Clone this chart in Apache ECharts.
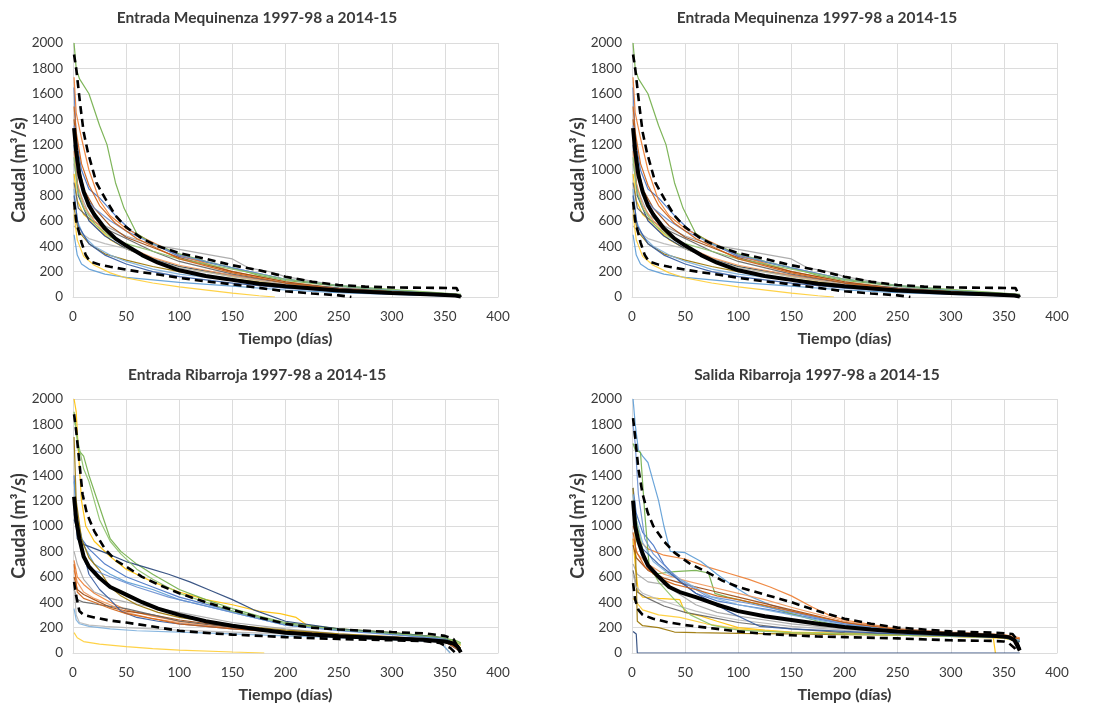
<!DOCTYPE html>
<html>
<head>
<meta charset="utf-8">
<script src="https://cdn.jsdelivr.net/npm/echarts@6/dist/echarts.min.js"></script>
<style>html,body{margin:0;padding:0;background:#fff}#c{width:1101px;height:704px}</style>
</head>
<body>
<div id="c"></div>
<script>
// ---------- Text ----------
const titles = [
  'Entrada Mequinenza 1997-98 a 2014-15',
  'Entrada Mequinenza 1997-98 a 2014-15',
  'Entrada Ribarroja 1997-98 a 2014-15',
  'Salida Ribarroja 1997-98 a 2014-15'
];
const xName = 'Tiempo (días)';
const yName = 'Caudal (m³/s)';
const yearNames = ['1997-98','1998-99','1999-00','2000-01','2001-02','2002-03','2003-04','2004-05','2005-06',
  '2006-07','2007-08','2008-09','2009-10','2010-11','2011-12','2012-13','2013-14','2014-15'];
const yearColors = ['#4472C4','#ED7D31','#A5A5A5','#FFC000','#5B9BD5','#70AD47','#264478','#9E480E','#636363',
  '#997300','#698ED0','#F1975A','#B7B7B7','#FFCD33','#7CAFDD','#8CC168','#335AA1','#D26012'];

// ---------- Entrada Mequinenza: [día, caudal] ----------
const mqMean = [[1,1330],[3,1150],[6,960],[10,830],[15,720],[20,650],[30,540],[40,460],[50,405],[65,330],[80,270],[100,210],[125,165],[150,135],[175,105],[200,85],[250,52],[300,32],[340,20],[360,12],[365,3]];
const mqUpper = [[1,1910],[3,1800],[7,1500],[10,1300],[14,1140],[22,900],[30,780],[40,640],[50,550],[65,460],[80,400],[100,345],[125,300],[150,250],[175,210],[200,160],[225,120],[250,95],[275,82],[300,75],[340,72],[361,70],[365,0]];
const mqLower = [[1,750],[3,600],[8,430],[12,330],[16,280],[25,255],[35,238],[50,215],[65,195],[82,175],[100,150],[130,118],[150,100],[175,72],[200,45],[225,28],[250,13],[262,0]];
const mqYears = [
  [[1,1650],[3,1250],[8,1000],[15,850],[25,780],[40,640],[55,520],[75,420],[100,320],[150,230],[200,140],[250,85],[300,50],[365,15]],
  [[1,1730],[3,1450],[8,1250],[15,1000],[25,760],[35,640],[50,540],[70,450],[100,330],[150,200],[200,120],[250,70],[300,45],[340,30],[365,10]],
  [[1,1050],[5,850],[15,650],[30,560],[50,480],[75,410],[100,375],[130,330],[150,300],[165,230],[185,200],[200,160],[250,90],[300,55],[365,20]],
  [[1,970],[4,760],[10,650],[20,580],[35,450],[50,380],[75,300],[100,240],[150,160],[200,100],[250,60],[300,35],[365,10]],
  [[1,490],[4,330],[8,260],[15,220],[30,180],[50,155],[75,135],[100,115],[150,85],[200,55],[250,35],[300,20],[365,5]],
  [[1,2000],[3,1800],[6,1720],[15,1600],[25,1350],[32,1200],[40,900],[48,700],[60,500],[75,420],[100,340],[125,280],[150,230],[175,170],[200,130],[250,85],[300,50],[340,30],[360,20],[365,10]],
  [[1,1200],[5,800],[15,600],[30,480],[50,380],[75,300],[100,240],[150,170],[200,110],[250,70],[300,40],[365,10]],
  [[1,1400],[4,1100],[10,850],[20,700],[35,560],[50,470],[75,390],[100,310],[150,200],[200,120],[250,60],[300,35],[365,8]],
  [[1,900],[5,700],[15,620],[30,540],[50,460],[75,360],[100,280],[150,180],[200,110],[250,65],[300,40],[365,10]],
  [[1,700],[5,520],[15,420],[30,340],[50,290],[75,240],[100,200],[150,140],[200,95],[250,60],[300,35],[365,5]],
  [[1,1350],[4,1000],[10,800],[20,700],[35,600],[50,520],[75,420],[100,330],[150,230],[200,140],[250,90],[300,55],[365,15]],
  [[1,1150],[4,900],[10,720],[20,600],[35,480],[50,400],[75,310],[100,250],[150,170],[200,100],[250,60],[300,35],[365,10]],
  [[1,560],[5,520],[15,460],[30,420],[50,380],[75,300],[100,230],[150,160],[200,100],[250,60],[300,35],[365,10]],
  [[1,650],[4,450],[10,320],[20,250],[35,190],[50,150],[75,110],[100,80],[130,50],[150,30],[175,10],[190,0]],
  [[1,850],[4,600],[10,480],[20,400],[35,330],[50,280],[75,220],[100,180],[150,130],[200,90],[250,55],[300,30],[365,5]],
  [[1,1100],[4,850],[10,700],[20,580],[35,470],[50,420],[75,360],[100,300],[150,220],[200,140],[250,90],[300,60],[365,20]],
  [[1,800],[5,560],[15,420],[30,330],[50,260],[75,200],[100,160],[150,110],[200,70],[250,45],[300,25],[365,5]],
  [[1,1500],[3,1300],[8,1050],[15,880],[25,720],[40,580],[60,460],[80,380],[100,300],[150,190],[200,110],[250,65],[300,40],[365,10]]
];

// ---------- Entrada Ribarroja ----------
const erMean = [[1,1230],[3,1050],[6,900],[10,760],[15,680],[25,590],[35,520],[50,460],[65,400],[80,350],[100,300],[125,250],[150,215],[175,185],[200,160],[225,145],[250,132],[300,115],[330,105],[350,90],[358,75],[362,50],[365,5]];
const erUpper = [[1,1880],[3,1750],[6,1500],[9,1250],[13,1100],[20,960],[30,820],[40,730],[50,680],[65,600],[80,540],[100,470],[125,400],[150,340],[175,280],[200,230],[225,200],[250,185],[300,165],[330,155],[350,135],[358,110],[365,10]];
const erLower = [[1,560],[3,450],[6,330],[10,300],[20,280],[35,255],[50,240],[70,215],[100,175],[130,155],[150,145],[200,125],[250,110],[300,100],[330,95],[345,80],[355,40],[360,0]];
const erYears = [
  [[1,1400],[3,1100],[8,900],[15,820],[30,700],[50,600],[75,520],[100,440],[150,330],[200,230],[250,180],[300,150],[350,110],[365,30]],
  [[1,730],[4,600],[10,540],[20,470],[35,400],[50,340],[75,290],[100,250],[150,200],[200,170],[250,140],[300,125],[350,100],[365,30]],
  [[1,800],[4,700],[10,580],[20,480],[35,430],[50,400],[75,360],[100,320],[150,240],[200,190],[250,150],[300,125],[350,95],[365,30]],
  [[1,2000],[3,1900],[5,1600],[8,1200],[12,1000],[20,880],[35,760],[50,660],[75,560],[100,480],[125,420],[150,380],[175,330],[195,310],[210,280],[220,220],[250,190],[300,160],[340,130],[360,90],[365,60]],
  [[1,1350],[4,1050],[10,850],[20,700],[35,620],[50,560],[75,500],[100,420],[150,320],[200,220],[250,180],[300,150],[350,115],[365,40]],
  [[1,1900],[5,1600],[10,1550],[15,1400],[25,1150],[35,900],[45,800],[60,700],[75,620],[100,500],[125,420],[150,350],[175,290],[200,240],[250,190],[300,160],[340,130],[360,100],[365,80]],
  [[1,1200],[4,900],[8,860],[15,840],[30,790],[50,720],[70,670],[90,620],[110,560],[130,490],[150,420],[170,340],[200,250],[250,190],[300,160],[350,120],[365,40]],
  [[1,600],[4,500],[10,460],[20,420],[35,360],[50,330],[75,300],[100,260],[150,205],[200,170],[250,140],[300,120],[350,90],[365,10]],
  [[1,500],[4,420],[10,400],[25,380],[50,350],[75,300],[100,250],[150,200],[200,165],[250,140],[300,120],[350,95],[365,10]],
  [[1,1700],[3,1200],[8,900],[15,750],[25,650],[35,520],[45,450],[60,380],[80,320],[100,280],[150,220],[200,180],[250,150],[300,130],[350,100],[365,40]],
  [[1,1100],[5,900],[12,700],[20,650],[35,600],[60,520],[90,440],[120,380],[150,320],[200,220],[250,175],[300,145],[350,110],[365,30]],
  [[1,650],[4,560],[10,480],[20,430],[35,380],[50,320],[75,270],[100,240],[150,195],[200,165],[250,140],[300,120],[350,95],[365,20]],
  [[1,550],[3,300],[6,240],[15,220],[30,210],[50,200],[100,180],[150,165],[200,150],[250,130],[300,115],[345,95],[355,0]],
  [[1,160],[4,120],[10,90],[25,70],[50,50],[75,35],[100,22],[150,8],[180,0]],
  [[1,350],[3,260],[6,230],[15,210],[35,190],[60,175],[100,165],[150,150],[200,135],[250,120],[300,105],[345,90],[355,0]],
  [[1,1850],[5,1650],[10,1450],[15,1350],[25,1050],[35,880],[45,780],[60,660],[75,580],[100,470],[150,330],[200,230],[250,185],[300,155],[350,120],[365,70]],
  [[1,1050],[5,950],[15,620],[25,500],[35,420],[45,330],[60,280],[80,250],[100,230],[150,190],[200,165],[250,140],[300,125],[350,100],[365,20]],
  [[1,700],[4,480],[10,430],[20,400],[35,350],[50,310],[75,270],[100,230],[150,190],[200,160],[250,135],[300,115],[350,90],[365,20]]
];

// ---------- Salida Ribarroja ----------
const srMean = [[1,1200],[3,1000],[6,880],[10,780],[15,690],[25,600],[35,520],[45,480],[60,440],[80,380],[100,330],[125,290],[150,260],[175,230],[200,205],[225,185],[250,170],[300,150],[340,135],[355,125],[360,100],[365,20]];
const srUpper = [[1,1850],[3,1700],[6,1450],[10,1250],[15,1100],[20,1000],[30,880],[40,790],[55,700],[70,640],[85,570],[100,520],[125,460],[150,400],[175,330],[200,270],[225,230],[250,200],[300,170],[340,160],[358,150],[361,120],[365,30]];
const srLower = [[1,550],[3,420],[6,340],[10,300],[20,270],[35,240],[50,220],[75,195],[100,170],[125,150],[150,140],[175,130],[200,125],[250,115],[300,100],[340,95],[350,90],[355,75],[360,40],[363,0]];
const srYears = [
  [[1,1300],[4,1100],[10,950],[20,850],[30,700],[45,560],[60,470],[80,410],[100,380],[130,340],[160,290],[200,230],[250,180],[300,150],[350,130],[365,100]],
  [[1,1000],[5,900],[15,820],[30,770],[50,740],[70,680],[90,630],[110,580],[130,520],[150,450],[170,360],[185,300],[200,260],[250,190],[300,165],[350,145],[365,120]],
  [[1,700],[5,620],[15,560],[30,540],[45,460],[60,380],[80,320],[100,290],[125,260],[150,230],[200,190],[250,165],[300,145],[350,130],[365,100]],
  [[1,900],[3,700],[6,480],[10,440],[25,430],[45,420],[50,320],[65,290],[80,250],[100,200],[125,180],[150,165],[200,155],[250,145],[300,135],[340,125],[342,0]],
  [[1,2000],[3,1800],[6,1600],[10,1550],[15,1500],[20,1350],[25,1200],[30,1000],[36,800],[50,790],[65,720],[80,620],[95,530],[110,450],[130,380],[150,330],[175,280],[200,240],[250,190],[300,160],[350,140],[365,100]],
  [[1,1650],[3,1600],[8,1580],[12,1100],[16,700],[20,620],[40,640],[60,650],[72,630],[78,470],[90,440],[110,400],[130,360],[150,310],[175,250],[200,210],[250,170],[300,150],[350,130],[365,100]],
  [[1,170],[4,150],[5,0],[365,0]],
  [[1,850],[4,750],[15,650],[30,590],[50,540],[75,490],[100,440],[150,340],[200,240],[250,180],[300,155],[350,135],[365,100]],
  [[1,650],[5,480],[15,430],[30,370],[50,320],[75,280],[100,240],[150,190],[200,160],[250,150],[300,135],[350,120],[365,90]],
  [[1,1300],[3,900],[5,250],[10,215],[25,200],[40,165],[60,160],[100,155],[150,150],[200,145],[250,140],[300,130],[350,120],[365,100]],
  [[1,1800],[3,1650],[6,1250],[12,900],[20,780],[35,650],[50,550],[70,450],[90,420],[110,390],[150,320],[200,230],[250,180],[300,150],[350,130],[365,110]],
  [[1,900],[5,780],[15,700],[30,620],[50,570],[75,520],[100,470],[125,420],[150,360],[200,250],[250,190],[300,160],[350,140],[365,110]],
  [[1,620],[4,520],[10,470],[25,420],[40,380],[60,330],[80,290],[100,260],[150,210],[200,180],[250,160],[300,140],[350,125],[365,100]],
  [[1,430],[4,400],[10,340],[25,300],[45,280],[70,230],[100,190],[150,160],[200,150],[250,140],[300,130],[350,115],[365,90]],
  [[1,1250],[4,1050],[10,870],[20,720],[35,620],[50,560],[75,440],[100,380],[150,300],[200,220],[250,180],[300,150],[350,130],[365,100]],
  [[1,1200],[5,1000],[12,750],[25,560],[40,420],[55,300],[75,220],[100,180],[150,160],[200,150],[250,140],[300,130],[350,120],[365,90]],
  [[1,1100],[4,950],[10,820],[25,700],[40,600],[60,470],[90,330],[110,250],[120,210],[150,190],[200,170],[250,150],[300,135],[350,120],[365,90]],
  [[1,950],[4,800],[12,680],[25,590],[40,540],[60,500],[80,450],[100,420],[150,330],[200,240],[250,185],[300,155],[350,135],[365,110]]
];

// ---------- Axes ----------
const xMin = 0, xMax = 400, xStep = 50;
const yMin = 0, yMax = 2000, yStep = 200;

const panels = [
  {years: mqYears, mean: mqMean, upper: mqUpper, lower: mqLower},
  {years: mqYears, mean: mqMean, upper: mqUpper, lower: mqLower},
  {years: erYears, mean: erMean, upper: erUpper, lower: erLower},
  {years: srYears, mean: srMean, upper: srUpper, lower: srLower}
];
const grids = [
  {left: 73, right: 603, top: 43, height: 254},
  {left: 632, right: 44, top: 43, height: 254},
  {left: 73, right: 603, top: 399, height: 254},
  {left: 632, right: 44, top: 399, height: 254}
];
const titlePos = [[257, 18], [817, 18], [257, 375], [817, 375]];

const FONT = 'Lato, "Open Sans", sans-serif';
const txt = '#3a3a3a';
const gridCol = '#dcdcdc';

const xAxes = [], yAxes = [], series = [], graphics = [];
grids.forEach((g, i) => {
  xAxes.push({
    type: 'value', gridIndex: i, min: xMin, max: xMax, interval: xStep,
    name: xName, nameLocation: 'middle', nameGap: 34,
    nameTextStyle: {fontFamily: FONT, fontWeight: 'bold', fontSize: 16, color: txt},
    axisLine: {show: true, lineStyle: {color: gridCol}},
    axisTick: {show: false},
    axisLabel: {fontFamily: FONT, fontSize: 13.5, color: txt, margin: 13, formatter: v => String(v)},
    splitLine: {show: true, lineStyle: {color: gridCol, width: 1}}
  });
  yAxes.push({
    type: 'value', gridIndex: i, min: yMin, max: yMax, interval: yStep,
    name: yName, nameLocation: 'middle', nameGap: 42,
    nameTextStyle: {fontFamily: FONT, fontWeight: 'bold', fontSize: 18, color: txt},
    axisLine: {show: true, lineStyle: {color: gridCol}},
    axisTick: {show: false},
    axisLabel: {fontFamily: FONT, fontSize: 13.5, color: txt, margin: 10, formatter: v => String(v)},
    splitLine: {show: true, lineStyle: {color: gridCol, width: 1}}
  });
  const p = panels[i];
  p.years.forEach((d, k) => {
    series.push({
      type: 'line', name: yearNames[k], xAxisIndex: i, yAxisIndex: i, data: d,
      showSymbol: false, symbol: 'none', silent: true, z: 2,
      lineStyle: {color: yearColors[k], width: 1.2, opacity: 0.9}
    });
  });
  series.push({
    type: 'line', name: 'Media', xAxisIndex: i, yAxisIndex: i, data: p.mean,
    symbol: 'none', silent: true, z: 4, lineStyle: {color: '#000', width: 4}
  });
  [p.upper, p.lower].forEach(d => series.push({
    type: 'line', name: 'Banda', xAxisIndex: i, yAxisIndex: i, data: d,
    symbol: 'none', silent: true, z: 5, lineStyle: {color: '#000', width: 2.6, type: [8, 5]}
  }));
  graphics.push({
    type: 'text', x: titlePos[i][0], y: titlePos[i][1],
    style: {text: titles[i], fontFamily: FONT, fontWeight: 'bold', fontSize: 15.5, fill: txt,
      textAlign: 'center', textVerticalAlign: 'middle'}
  });
});

const chart = echarts.init(document.getElementById('c'), null, {renderer: 'canvas'});
chart.setOption({
  animation: false,
  backgroundColor: '#fff',
  grid: grids.map(g => Object.assign({containLabel: false}, g)),
  xAxis: xAxes, yAxis: yAxes, series: series, graphic: graphics
});
</script>
</body>
</html>
